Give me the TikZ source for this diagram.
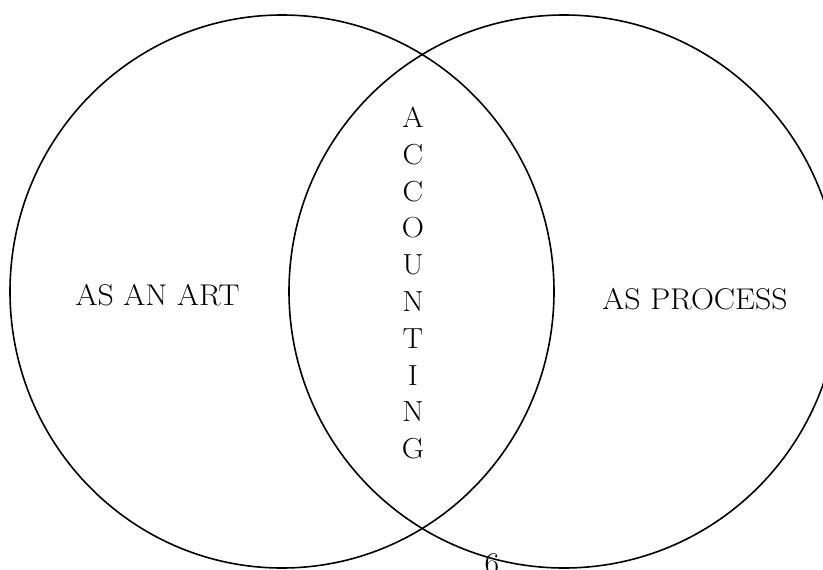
\documentclass[tikz,border=0pt]{standalone}
\begin{document}
\begin{tikzpicture}[x=1pt,y=-1pt,
  ring/.style={draw=black,line width=1.6pt},
  lbl/.style={font=\fontsize{30}{33}\selectfont,inner sep=0pt,xscale=1.06}]
\useasboundingbox (0,0) rectangle (823,570);
\clip (0,0) rectangle (823,570);
\draw[ring] (282,291.5) ellipse [x radius=272, y radius=276.5];
\draw[ring] (564,291.5) ellipse [x radius=275, y radius=276.5];
\node[lbl] (art) at (157.5,295) {AS AN ART};
\node[lbl] (proc) at (695,299) {AS PROCESS};
\node[lbl,align=center,font=\fontsize{29}{36.8}\selectfont] (acc) at (413,283)
  {A\\C\\C\\O\\U\\N\\T\\I\\N\\G};
\node[lbl,anchor=north] (pg) at (492,553) {6};
\end{tikzpicture}
\end{document}
